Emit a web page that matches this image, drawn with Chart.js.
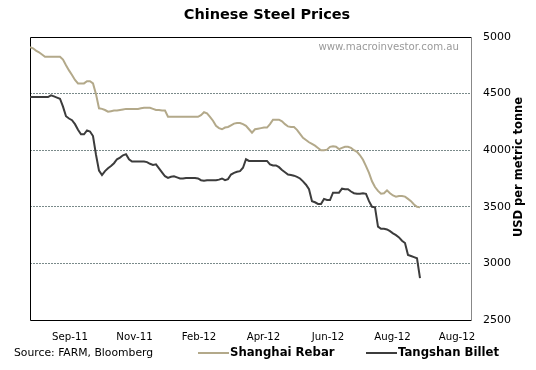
<!DOCTYPE html>
<html>
<head>
<meta charset="utf-8">
<script src="https://cdn.jsdelivr.net/npm/chart.js@4/dist/chart.umd.min.js"></script>
<style>
html,body{margin:0;padding:0;background:#fff;}
#wrap{width:536px;height:370px;position:relative;}
</style>
</head>
<body>
<div id="wrap"><canvas id="c" width="536" height="370"></canvas></div>
<script>
// Tick labels along the x axis
const tickLabels = ['Sep-11','Nov-11','Feb-12','Apr-12','Jun-12','Aug-12','Aug-12'];
const yTicks = [2500, 3000, 3500, 4000, 4500, 5000];
const seriesNames = ['Shanghai Rebar', 'Tangshan Billet'];

// Shanghai Rebar (USD per metric tonne), sampled along the period
const shanghaiRebar = [
4910,4900,4880,4865,4845,4825,4825,4825,4825,4825,
4825,4800,4750,4705,4665,4620,4590,4590,4590,4610,
4610,4590,4495,4370,4365,4355,4340,4345,4350,4350,
4355,4360,4365,4365,4365,4365,4365,4370,4375,4375,
4375,4365,4355,4355,4350,4350,4295,4295,4295,4295,
4295,4295,4295,4295,4295,4295,4295,4310,4335,4325,
4295,4260,4215,4195,4185,4200,4205,4220,4235,4240,
4240,4230,4215,4185,4155,4185,4190,4195,4200,4200,
4230,4270,4270,4270,4255,4230,4210,4205,4205,4180,
4145,4110,4090,4070,4055,4040,4020,4000,4000,4005,
4030,4035,4030,4010,4020,4030,4030,4020,4000,3985,
3955,3915,3860,3800,3725,3675,3640,3615,3620,3645,
3620,3600,3590,3595,3595,3590,3570,3550,3520,3500,
3495
];

// Tangshan Billet (USD per metric tonne)
const tangshanBillet = [
4470,4470,4470,4470,4470,4470,4470,4485,4475,4465,
4455,4385,4300,4280,4265,4230,4180,4140,4140,4175,
4165,4125,3960,3820,3780,3815,3840,3860,3885,3920,
3935,3955,3965,3920,3900,3900,3900,3900,3900,3895,
3880,3870,3875,3840,3805,3770,3755,3765,3770,3760,
3750,3750,3755,3755,3755,3755,3750,3735,3730,3735,
3735,3735,3735,3740,3750,3735,3745,3785,3800,3810,
3815,3845,3920,3905,3905,3905,3905,3905,3905,3905,
3875,3865,3865,3850,3825,3805,3785,3780,3775,3765,
3750,3725,3695,3655,3550,3540,3525,3525,3570,3560,
3560,3625,3625,3625,3660,3655,3655,3635,3620,3615,
3615,3620,3615,3550,3500,3495,3325,3305,3305,3300,
3285,3265,3250,3230,3200,3180,3075,3065,3055,3045,
2870
];

const REBAR_COLOR = '#b3a98a';
const BILLET_COLOR = '#3c3c3c';
const FONT = '"DejaVu Sans", Verdana, sans-serif';

const decorPlugin = {
  id: 'decor',
  beforeDatasetsDraw(chart) {
    const {ctx, chartArea: a} = chart;
    ctx.save();
    ctx.lineWidth = 1;
    ctx.strokeStyle = '#000';
    ctx.beginPath();
    ctx.moveTo(a.right + 0.5, a.top + 0.5);
    ctx.lineTo(a.left + 0.5, a.top + 0.5);
    ctx.lineTo(a.left + 0.5, a.bottom + 0.5);
    ctx.lineTo(a.right + 0.5, a.bottom + 0.5);
    ctx.stroke();
    ctx.strokeStyle = '#888';
    ctx.beginPath();
    ctx.moveTo(a.right + 0.5, a.top + 0.5);
    ctx.lineTo(a.right + 0.5, a.bottom + 0.5);
    ctx.stroke();
    // watermark
    ctx.fillStyle = '#9a9a9a';
    ctx.font = '10.2px ' + FONT;
    ctx.textAlign = 'right';
    ctx.textBaseline = 'middle';
    ctx.fillText('www.macroinvestor.com.au', 459, 47);
    ctx.restore();
  },
  afterDraw(chart) {
    const {ctx} = chart;
    ctx.save();
    // title
    ctx.fillStyle = '#000';
    ctx.font = 'bold 14.5px ' + FONT;
    ctx.textAlign = 'center';
    ctx.textBaseline = 'middle';
    ctx.fillText('Chinese Steel Prices', 267, 15);
    // y axis title
    ctx.save();
    ctx.translate(519, 167);
    ctx.rotate(-Math.PI / 2);
    ctx.font = 'bold 11.5px ' + FONT;
    ctx.fillText('USD per metric tonne', 0, 0);
    ctx.restore();
    // source
    ctx.font = '10.8px ' + FONT;
    ctx.textAlign = 'left';
    ctx.fillText('Source: FARM, Bloomberg', 14, 353);
    // legend
    const items = [
      {name: seriesNames[0], color: REBAR_COLOR, x0: 198, x1: 229},
      {name: seriesNames[1], color: BILLET_COLOR, x0: 366, x1: 397}
    ];
    ctx.font = 'bold 11.7px ' + FONT;
    items.forEach(it => {
      ctx.strokeStyle = it.color;
      ctx.lineWidth = 2;
      ctx.beginPath();
      ctx.moveTo(it.x0, 353);
      ctx.lineTo(it.x1, 353);
      ctx.stroke();
      ctx.fillStyle = '#000';
      ctx.fillText(it.name, it.x1 + 1, 353);
    });
    ctx.restore();
  }
};

new Chart(document.getElementById('c'), {
  type: 'line',
  data: {
    datasets: [
      {
        label: seriesNames[0],
        data: shanghaiRebar.map((v, i) => ({x: i, y: v})),
        borderColor: REBAR_COLOR,
        borderWidth: 2,
        pointRadius: 0,
        tension: 0,
        fill: false
      },
      {
        label: seriesNames[1],
        data: tangshanBillet.map((v, i) => ({x: i, y: v})),
        borderColor: BILLET_COLOR,
        borderWidth: 2,
        pointRadius: 0,
        tension: 0,
        fill: false
      }
    ]
  },
  options: {
    responsive: false,
    animation: false,
    events: [],
    layout: {padding: {left: 30, top: 37, right: 0, bottom: 0}},
    plugins: {legend: {display: false}, title: {display: false}, tooltip: {enabled: false}},
    scales: {
      x: {
        type: 'linear',
        min: 0,
        max: 147,
        grid: {display: false, drawTicks: false},
        border: {display: false},
        afterBuildTicks: (scale) => {
          scale.ticks = tickLabels.map((l, k) => ({value: 13.33 + 21.5 * k}));
        },
        afterFit: (scale) => { scale.height = 50; },
        ticks: {
          autoSkip: false,
          maxRotation: 0,
          padding: 11,
          color: '#000',
          font: {family: FONT, size: 10.2},
          callback: (v, idx) => tickLabels[idx]
        }
      },
      y: {
        position: 'right',
        min: yTicks[0],
        max: yTicks[yTicks.length - 1],
        afterBuildTicks: (scale) => { scale.ticks = yTicks.map(v => ({value: v})); },
        afterFit: (scale) => { scale.width = 65; },
        grid: {
          drawTicks: false,
          lineWidth: 1,
          color: (c) => (c.tick && (c.tick.value === yTicks[0] || c.tick.value === yTicks[yTicks.length - 1])) ? 'rgba(0,0,0,0)' : '#7a8a8a'
        },
        border: {display: false, dash: [2, 1]},
        ticks: {
          padding: 12,
          color: '#000',
          font: {family: FONT, size: 11},
          callback: (v) => String(v)
        }
      }
    }
  },
  plugins: [decorPlugin]
});
</script>
</body>
</html>
